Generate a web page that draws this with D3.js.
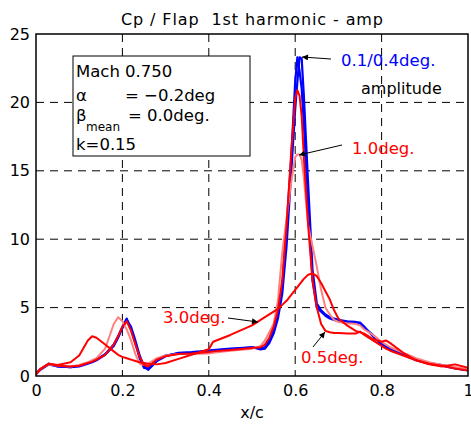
<!DOCTYPE html>
<html>
<head>
<meta charset="utf-8">
<script src="https://cdn.jsdelivr.net/npm/d3@7"></script>
<style>
  body { margin: 0; background: #fff; }
  text { font-family: "DejaVu Sans", sans-serif; }
</style>
</head>
<body>
<div id="chart"></div>
<script>
// DATOS.
const xc = [0, 0.01, 0.02, 0.03, 0.05, 0.08, 0.10, 0.12, 0.13, 0.14, 0.16, 0.18, 0.19, 0.20, 0.21,
  0.22, 0.23, 0.24, 0.25, 0.26, 0.28, 0.30, 0.33, 0.36, 0.40, 0.41, 0.45, 0.50, 0.52, 0.53,
  0.54, 0.55, 0.56, 0.57, 0.58, 0.59, 0.60, 0.605, 0.61, 0.615, 0.62, 0.63, 0.64, 0.65, 0.66,
  0.67, 0.68, 0.69, 0.70, 0.72, 0.74, 0.75, 0.76, 0.78, 0.80, 0.81, 0.82, 0.85, 0.88, 0.91,
  0.94, 0.97, 1.0];

const amp01 = [0.2, 0.5, 0.7, 0.9, 0.7, 0.65, 0.75, 0.95, 1.05, 1.2, 1.6, 2.3, 2.9, 3.6, 4.2,
  3.4, 2.4, 1.3, 0.6, 0.55, 1.2, 1.5, 1.65, 1.7, 1.8, 1.85, 1.95, 2.1, 2.0, 2.1,
  2.6, 3.4, 4.5, 6.5, 11, 15.5, 21.5, 23.3, 22.3, 21, 18.5, 12.5, 7.0, 5.0, 4.7,
  4.4, 4.2, 4.1, 4.0, 3.95, 3.9, 3.85, 3.5, 3.0, 2.4, 2.2, 2.0, 1.6, 1.2, 0.95,
  0.8, 0.6, 0.45];

const amp04 = [0.15, 0.45, 0.65, 0.85, 0.7, 0.65, 0.7, 0.9, 1.0, 1.15, 1.55, 2.2, 2.8, 3.5, 4.1,
  3.6, 2.6, 1.5, 0.7, 0.45, 1.1, 1.45, 1.7, 1.75, 1.85, 1.9, 2.0, 2.1, 1.95, 2.0,
  2.4, 3.1, 4.2, 6.0, 9.5, 14.5, 19.5, 21.5, 23.3, 23.2, 20.5, 14, 7.8, 5.3, 4.8,
  4.5, 4.3, 4.2, 4.1, 4.0, 3.95, 3.9, 3.6, 2.9, 2.3, 2.1, 1.9, 1.55, 1.15, 0.9,
  0.75, 0.55, 0.4];

const amp05 = [0.1, 0.5, 0.7, 0.9, 0.75, 0.7, 0.75, 0.95, 1.05, 1.2, 1.55, 2.3, 2.9, 3.6, 4.0,
  3.3, 2.3, 1.4, 0.8, 0.7, 1.2, 1.45, 1.6, 1.65, 1.75, 1.8, 1.9, 2.05, 2.1, 2.3,
  2.8, 3.6, 4.8, 7, 11, 16, 20.3, 20.9, 20.5, 19, 16, 11, 7.0, 5.0, 3.8,
  3.3, 3.2, 3.15, 3.15, 3.1, 3.1, 3.25, 3.0, 2.6, 2.2, 2.0, 1.85, 1.5, 1.15, 0.9,
  0.75, 0.55, 0.4];

const amp10 = [0.2, 0.5, 0.7, 0.85, 0.75, 0.7, 0.8, 1.0, 1.15, 1.3, 2.0, 3.8, 4.3, 4.0, 3.4,
  2.6, 1.6, 0.9, 0.8, 0.9, 1.3, 1.5, 1.6, 1.6, 1.65, 1.7, 1.85, 2.0, 2.2, 2.6,
  3.2, 3.8, 5.5, 9, 11.5, 14, 16.0, 16.2, 16.2, 15.8, 14.5, 11, 9.5, 8, 6.3,
  5.0, 4.5, 4.1, 3.95, 3.85, 3.8, 3.7, 3.4, 3.0, 2.5, 2.3, 2.1, 1.7, 1.3, 1.0,
  0.8, 0.65, 0.5];

const amp30 = [0.2, 0.5, 0.7, 0.9, 0.8, 1.0, 1.5, 2.6, 2.9, 2.8, 2.3, 1.8, 1.55, 1.4, 1.3,
  1.2, 1.1, 1.0, 0.95, 0.9, 0.85, 0.95, 1.25, 1.55, 1.95, 2.5, 3.0, 3.7, 4.1, 4.3,
  4.5, 4.7, 4.9, 5.2, 5.5, 5.9, 6.3, 6.5, 6.7, 6.9, 7.1, 7.4, 7.5, 7.3, 6.8,
  6.2, 5.6, 4.8, 4.2, 3.7, 3.3, 3.2, 3.1, 2.7, 2.5, 2.6, 2.4, 1.7, 1.15, 0.85,
  0.7, 0.85, 0.6];

const xTicks = [0, 0.2, 0.4, 0.6, 0.8, 1];
const yTicks = [0, 5, 10, 15, 20, 25];

const series = [
  {name: "0.1deg", values: amp01, color: "#0000ff", width: 2.2},
  {name: "0.4deg", values: amp04, color: "#0000ff", width: 2.2},
  {name: "1.0deg", values: amp10, color: "#ff8080", width: 2},
  {name: "0.5deg", values: amp05, color: "#ff0000", width: 2},
  {name: "3.0deg", values: amp30, color: "#ff0000", width: 2}
];

// MAQUETADO.
const width = 471, height = 425;
const plotL = 36, plotR = 468, plotT = 34, plotB = 376;

const svg = d3.select("#chart").append("svg")
  .attr("width", width)
  .attr("height", height);

const x = d3.scaleLinear().domain([0, 1]).range([plotL, plotR]);
const y = d3.scaleLinear().domain([0, 25]).range([plotB, plotT]);

const defs = svg.append("defs");
defs.append("clipPath").attr("id", "clip")
  .append("rect")
  .attr("x", plotL).attr("y", plotT)
  .attr("width", plotR - plotL).attr("height", plotB - plotT);

const marker = defs.append("marker")
  .attr("id", "arrow")
  .attr("viewBox", "0 0 10 10")
  .attr("refX", 10).attr("refY", 5)
  .attr("markerWidth", 12).attr("markerHeight", 6)
  .attr("markerUnits", "userSpaceOnUse")
  .attr("orient", "auto");
marker.append("path").attr("d", "M0,0 L10,5 L0,10 Z").attr("fill", "#000");

// rejilla
svg.append("g").selectAll("line")
  .data(xTicks.filter(d => d > 0 && d < 1)).enter()
  .append("line")
  .attr("x1", d => x(d)).attr("x2", d => x(d))
  .attr("y1", plotT).attr("y2", plotB)
  .attr("stroke", "#000").attr("stroke-width", 1)
  .attr("stroke-dasharray", "8,6");

svg.append("g").selectAll("line")
  .data(yTicks.filter(d => d > 0 && d < 25)).enter()
  .append("line")
  .attr("x1", plotL).attr("x2", plotR)
  .attr("y1", d => y(d)).attr("y2", d => y(d))
  .attr("stroke", "#000").attr("stroke-width", 1)
  .attr("stroke-dasharray", "8,6");

// curvas
const line = d3.line()
  .x((d, i) => x(xc[i]))
  .y(d => y(d));

svg.append("g").attr("clip-path", "url(#clip)")
  .selectAll("path")
  .data(series).enter()
  .append("path")
  .attr("d", d => line(d.values))
  .attr("fill", "none")
  .attr("stroke", d => d.color)
  .attr("stroke-width", d => d.width)
  .attr("stroke-linejoin", "round");

// marco
svg.append("rect")
  .attr("x", plotL).attr("y", plotT)
  .attr("width", plotR - plotL).attr("height", plotB - plotT)
  .attr("fill", "none").attr("stroke", "#000").attr("stroke-width", 1.5);

// ejes
const xAxis = svg.append("g")
  .attr("transform", `translate(0,${plotB})`)
  .call(d3.axisBottom(x).tickValues(xTicks).tickSize(0).tickPadding(9).tickFormat(d3.format("")));
const yAxis = svg.append("g")
  .attr("transform", `translate(${plotL},0)`)
  .call(d3.axisLeft(y).tickValues(yTicks).tickSize(0).tickPadding(6));
[xAxis, yAxis].forEach(a => {
  a.select(".domain").remove();
  a.selectAll("text")
    .attr("font-size", "16px")
    .attr("fill", "#000")
    .style("font-family", "'DejaVu Sans', sans-serif");
});

// titulos
svg.append("text")
  .attr("x", 252).attr("y", 25)
  .attr("text-anchor", "middle")
  .attr("font-size", "16px")
  .attr("textLength", 262)
  .attr("lengthAdjust", "spacing")
  .style("white-space", "pre")
  .text("Cp / Flap  1st harmonic - amp");

svg.append("text")
  .attr("x", 252).attr("y", 418)
  .attr("text-anchor", "middle")
  .attr("font-size", "16px")
  .text("x/c");

// leyenda de condiciones
svg.append("rect")
  .attr("x", 73).attr("y", 56)
  .attr("width", 177).attr("height", 100)
  .attr("fill", "#fff").attr("stroke", "#000").attr("stroke-width", 1);

const info = svg.append("g").attr("font-size", "16.5px").attr("fill", "#000");
info.append("text").attr("x", 76).attr("y", 77).text("Mach 0.750");
info.append("text").attr("x", 76).attr("y", 101).text("α");
info.append("text").attr("x", 125).attr("y", 101).text("= −0.2deg");
info.append("text").attr("x", 76).attr("y", 121).text("β");
info.append("text").attr("x", 86).attr("y", 131).attr("font-size", "12px").text("mean");
info.append("text").attr("x", 128).attr("y", 121).text("= 0.0deg.");
info.append("text").attr("x", 76).attr("y", 150).text("k=0.15");

// anotaciones
const notes = [
  {text: "0.1/0.4deg.", color: "#0000ff", tx: 341, ty: 66, x1: 331, y1: 59, x2: 302, y2: 57},
  {text: "1.0deg.", color: "#ff0000", tx: 352, ty: 154, x1: 342, y1: 145, x2: 299, y2: 155},
  {text: "3.0deg.", color: "#ff0000", tx: 163, ty: 323, x1: 228, y1: 318, x2: 258, y2: 322},
  {text: "0.5deg.", color: "#ff0000", tx: 301, ty: 363, x1: 313, y1: 347, x2: 325, y2: 332}
];

const ann = svg.append("g");
ann.selectAll("line")
  .data(notes).enter()
  .append("line")
  .attr("x1", d => d.x1).attr("y1", d => d.y1)
  .attr("x2", d => d.x2).attr("y2", d => d.y2)
  .attr("stroke", "#000").attr("stroke-width", 1)
  .attr("marker-end", "url(#arrow)");
ann.selectAll("text")
  .data(notes).enter()
  .append("text")
  .attr("x", d => d.tx).attr("y", d => d.ty)
  .attr("font-size", "16.5px")
  .attr("fill", d => d.color)
  .text(d => d.text);

svg.append("text")
  .attr("x", 361).attr("y", 94)
  .attr("font-size", "16px")
  .text("amplitude");
</script>
</body>
</html>
